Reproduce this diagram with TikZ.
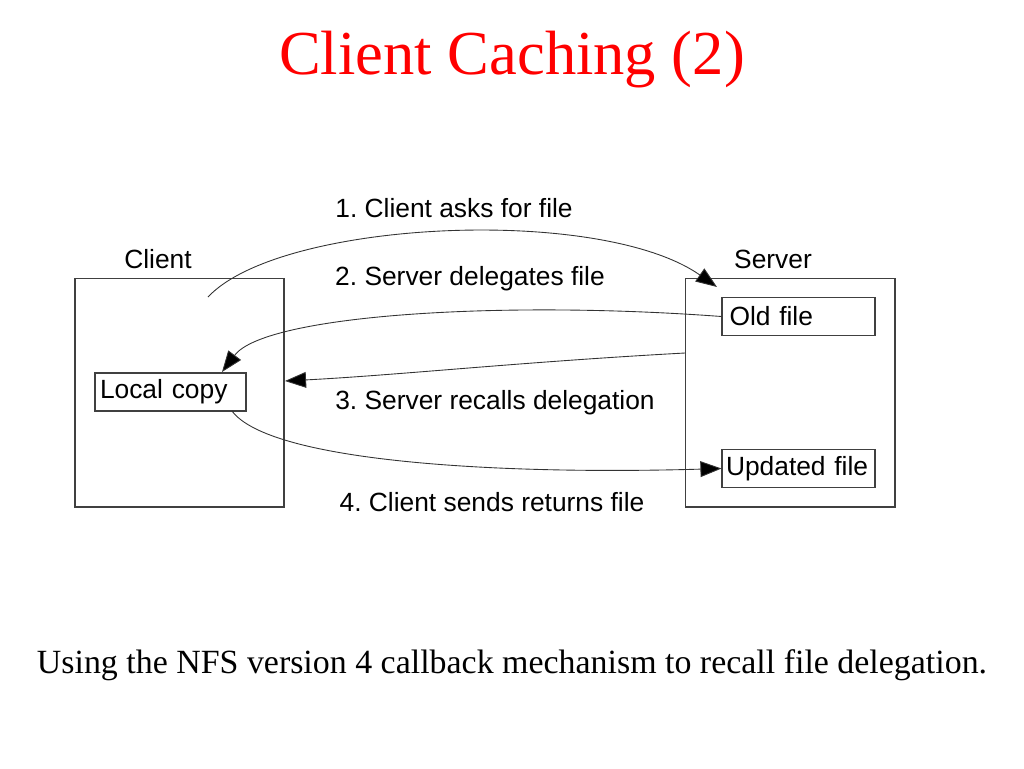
\documentclass[tikz,border=0pt]{standalone}
\usepackage{fontspec}
\setmainfont{Liberation Sans}
\newfontfamily\timesfont{Liberation Serif}
\usepackage{xcolor}
\usetikzlibrary{arrows.meta}

\begin{document}
\frenchspacing
\begin{tikzpicture}[x=0.02cm,y=-0.02cm,
   box/.style={draw=black!75,line width=0.6pt,inner sep=0pt},
   filebox/.style={box,minimum height=0.76cm,text width=2.76cm,inner xsep=0.15cm,align=left,font=\fontsize{15}{17}\selectfont},
   lbl/.style={font=\fontsize{15}{17}\selectfont},
   msg/.style={line width=0.5pt,draw=black!80,-{Triangle[length=12pt,width=9pt,fill=black]}}]
   \useasboundingbox (0,0) rectangle (1024,768);
   \draw (512,60) node (title) {\timesfont\fontsize{35.6}{40}\selectfont\textcolor{red}{Client Caching (2)}};
   \draw (179.5,392.5) node[box,minimum width=4.18cm,minimum height=4.58cm] (client) {};
   \draw (790,392.5) node[box,minimum width=4.2cm,minimum height=4.58cm] (server) {};
   \draw (158,259) node[lbl] (clientname) {Client};
   \draw (773,259) node[lbl] (servername) {Server};
    \draw (170.5,392) node[filebox,text width=2.82cm,inner xsep=0.1cm] (local) {Local copy};
    \draw (798.5,316.5) node[filebox] (old) {Old file};
    \draw (798.5,468.5) node[filebox,inner xsep=0.08cm,text width=2.9cm] (updated) {Updated file};
   \draw (454,208) node[lbl] (ask) {1. Client asks for file};
   \draw (470,279) node[lbl] (delegate) {2. Server delegates file};
   \draw (495,403) node[lbl] (recall) {3. Server recalls delegation};
   \draw (492,502) node[lbl] (return) {4. Client sends returns file};
   \draw (512,665) node (caption) {\timesfont\fontsize{19.3}{22}\selectfont Using the NFS version 4 callback mechanism to recall file delegation.};

   \coordinate (askstart) at (208,297);
   \coordinate (askend) at (717,287);
   \coordinate (delegend) at (222,372);
   \coordinate (recallstart) at (685,353);
   \coordinate (recallend) at (285,381);
   \coordinate (retstart) at (232,411);

      \draw[msg] (askstart) .. controls (280,220) and (600,205) .. (askend);
      \draw[msg] (old.west) .. controls (500,300) and (265,315) .. (delegend);
      \draw[msg] (recallstart) .. controls (520,362) and (400,375) .. (recallend);
      \draw[msg] (retstart) .. controls (270,462) and (500,475) .. (updated.west);
\end{tikzpicture}
\end{document}
